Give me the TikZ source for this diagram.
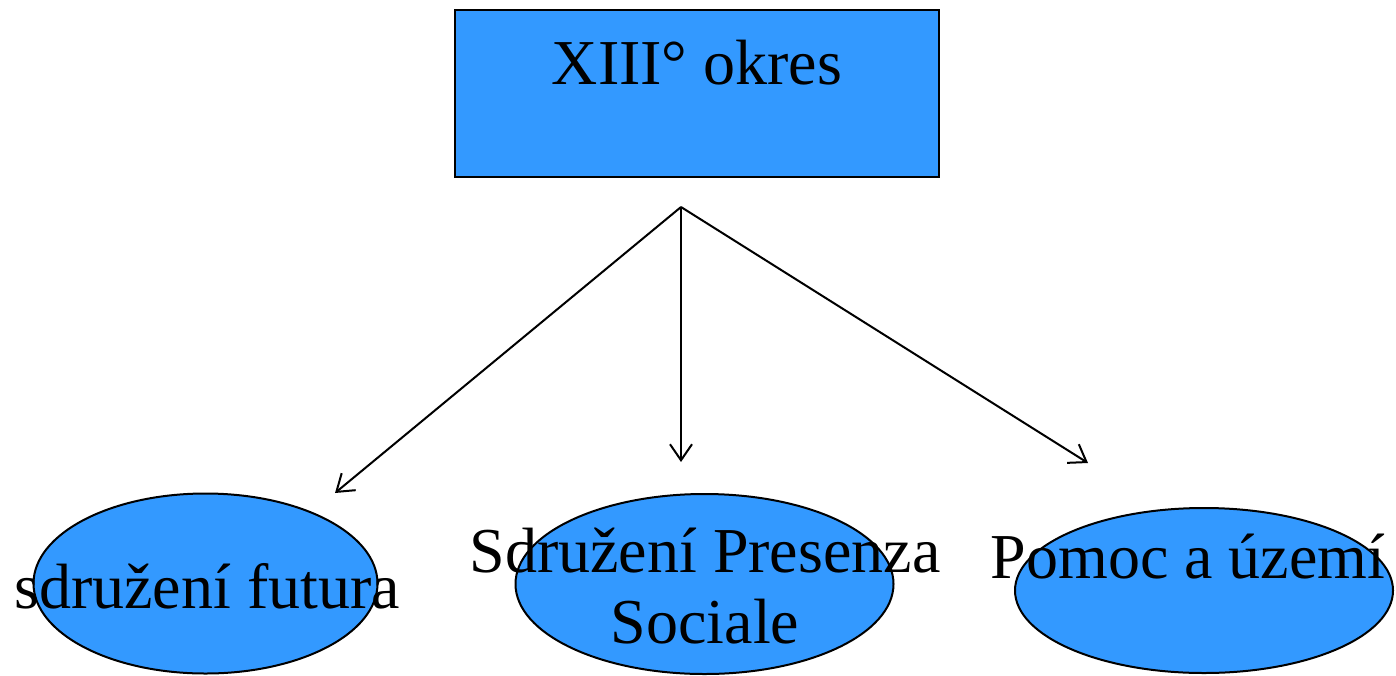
\documentclass[tikz,border=0pt]{standalone}
\usepackage{fontspec}
\setmainfont{Liberation Serif}
\usetikzlibrary{shapes.geometric,arrows.meta}
\definecolor{boxblue}{RGB}{51,153,255}
\begin{document}
\begin{tikzpicture}[x=1pt,y=-1pt,
  shapebox/.style={draw=black,line width=2pt,fill=boxblue,inner sep=0pt},
  oval/.style={shapebox,ellipse},
  label/.style={font=\fontsize{64}{71}\selectfont,inner sep=0pt,anchor=base,align=center},
  conn/.style={line width=2pt,-{Straight Barb[length=16pt,width=22pt,line width=2pt]}}]
\useasboundingbox (0,0) rectangle (1396,675);
\node[shapebox,minimum width=484pt,minimum height=167pt] (top) at (697,93.5) {};
\node[label] (toptext) at (697,84) {XIII° okres};
\coordinate (apex) at (681,207);
\coordinate (e1) at (335,493);
\coordinate (e2) at (681,462);
\coordinate (e3) at (1088,463);
\node[oval,minimum width=344pt,minimum height=180pt] (o1) at (205.5,583.5) {};
\node[oval,minimum width=378pt,minimum height=180pt] (o2) at (704.5,584) {};
\node[oval,minimum width=378pt,minimum height=165pt] (o3) at (1204,590.5) {};
\node[label] (t1) at (207,608) {sdružení futura};
\node[label,anchor=base] (t2) at (705,572) {Sdružení Presenza};
\node[label] (t2b) at (705,643) {Sociale};
\node[label] (t3) at (1188,578) {Pomoc a území};
\draw[conn] (apex) -- (e1);
\draw[conn] (apex) -- (e2);
\draw[conn] (apex) -- (e3);
\end{tikzpicture}
\end{document}
